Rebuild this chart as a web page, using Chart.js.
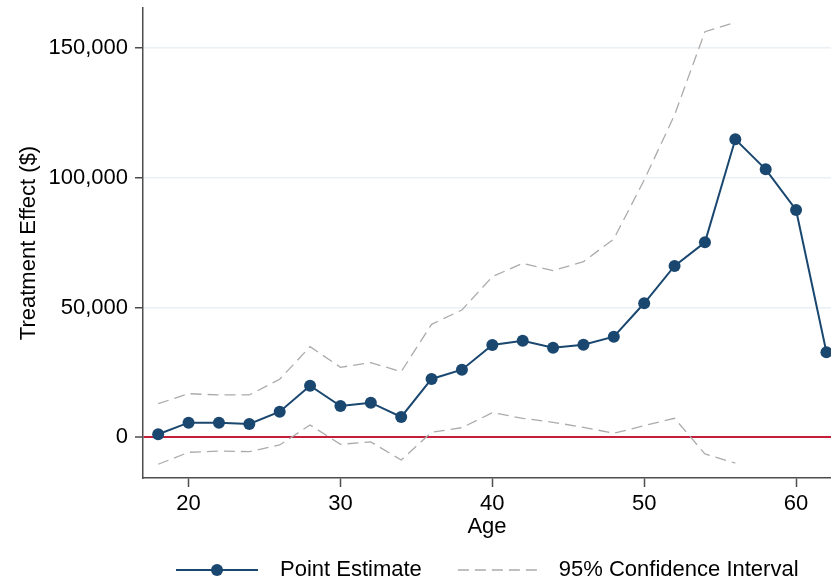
<!DOCTYPE html>
<html>
<head>
<meta charset="utf-8">
<script src="https://cdn.jsdelivr.net/npm/chart.js@4.4.0/dist/chart.umd.min.js"></script>
<style>
    html, body { margin: 0; padding: 0; background: #fff; }
    #wrap { width: 831px; height: 587px; }
</style>
</head>
<body>
<div id="wrap"><canvas id="effectChart" width="831" height="587"></canvas></div>
<script>
const ages = [18, 20, 22, 24, 26, 28, 30, 32, 34, 36, 38, 40, 42, 44, 46, 48, 50, 52, 54, 56, 58, 60, 62];
const pointEstimate = [1160, 5630, 5630, 5130, 9870, 19850, 12070, 13340, 7830, 22480, 26060, 35580,
    37240, 34540, 35700, 38780, 51660, 66040, 75170, 114880, 103300, 87620, 32770];
// confidence band stops at age 56
const ciUpper = [12950, 16810, 16310, 16310, 22360, 34930, 26990, 28760, 25290, 43560, 49070, 61910,
    67080, 64230, 67700, 76450, 99200, 124250, 156360, 159980];
const ciLower = [-10400, -5800, -5300, -5550, -2970, 4740, -2700, -1810, -8750, 1930, 3700, 9480,
    7320, 5780, 3850, 1540, 4470, 7320, -6440, -9950];
const xTicks = [20, 30, 40, 50, 60];
const yTicks = [0, 50000, 100000, 150000];

const navy = '#1a476f';
const ciGray = '#ababab';

Chart.defaults.font.family = '"Liberation Sans", Arial, sans-serif';
Chart.defaults.font.size = 22;
Chart.defaults.color = '#000';

function toPoints(values) {
    return values.map((v, i) => ({ x: ages[i], y: v }));
}

// legend symbols, drawn once on small canvases
function legendSymbol(kind) {
    const c = document.createElement('canvas');
    c.width = 110;
    c.height = 22;
    const g = c.getContext('2d');
    g.lineWidth = kind === 'point' ? 2 : 1.3;
    g.strokeStyle = kind === 'point' ? navy : ciGray;
    if (kind !== 'point') g.setLineDash([11, 6]);
    g.beginPath();
    g.moveTo(kind === 'point' ? 17 : 20, 11);
    g.lineTo(kind === 'point' ? 99 : 102, 11);
    g.stroke();
    if (kind === 'point') {
        g.fillStyle = navy;
        g.beginPath();
        g.arc(58, 11, 6, 0, Math.PI * 2);
        g.fill();
    }
    return c;
}

const ctx = document.getElementById('effectChart').getContext('2d');
const chart = new Chart(ctx, {
    type: 'line',
    data: {
        datasets: [
            {
                label: 'Point Estimate',
                data: toPoints(pointEstimate),
                borderColor: navy,
                backgroundColor: navy,
                borderWidth: 2,
                pointRadius: 6,
                pointBorderWidth: 0,
                pointHoverRadius: 6,
                tension: 0,
                order: 0
            },
            {
                label: '95% Confidence Interval',
                data: toPoints(ciUpper),
                borderColor: ciGray,
                borderWidth: 1.3,
                borderDash: [11, 6],
                pointRadius: 0,
                tension: 0,
                order: 1
            },
            {
                label: 'lower',
                data: toPoints(ciLower),
                borderColor: ciGray,
                borderWidth: 1.3,
                borderDash: [11, 6],
                pointRadius: 0,
                tension: 0,
                order: 1
            }
        ]
    },
    options: {
        responsive: false,
        animation: false,
        layout: { autoPadding: false, padding: { top: 8, left: 0, right: 0, bottom: 0 } },
        scales: {
            x: {
                type: 'linear',
                min: 17,
                max: 62.3,
                afterBuildTicks: (scale) => { scale.ticks = xTicks.map(v => ({ value: v })); },
                afterFit: (scale) => {
                    scale.height = 65;
                    scale.paddingLeft = 0;
                    scale.paddingRight = 0;
                },
                border: { display: true, color: '#4d4d4d', width: 1.5 },
                grid: {
                    display: true,
                    drawOnChartArea: false,
                    drawTicks: true,
                    tickLength: 9,
                    tickColor: '#4d4d4d',
                    tickWidth: 1.5
                },
                ticks: { padding: 4, color: '#000', font: { size: 22 } },
                title: {
                    display: true,
                    text: 'Age',
                    color: '#000',
                    font: { size: 22 },
                    padding: { top: 0, bottom: 3 }
                }
            },
            y: {
                min: -15700,
                max: 165500,
                afterBuildTicks: (scale) => { scale.ticks = yTicks.map(v => ({ value: v })); },
                afterFit: (scale) => {
                    scale.width = 143;
                    scale.paddingTop = 0;
                    scale.paddingBottom = 0;
                },
                border: { display: true, color: '#4d4d4d', width: 1.5 },
                grid: {
                    drawOnChartArea: true,
                    drawTicks: true,
                    tickLength: 8,
                    tickColor: '#4d4d4d',
                    tickWidth: 1.5,
                    color: (c) => c.tick && c.tick.value === 0 ? '#c41e3a' : '#eaf0f3',
                    lineWidth: (c) => c.tick && c.tick.value === 0 ? 2 : 1.5
                },
                ticks: {
                    padding: 7,
                    color: '#000',
                    font: { size: 22 },
                    callback: (v) => Number(v).toLocaleString('en-US')
                },
                title: {
                    display: true,
                    text: 'Treatment Effect ($)',
                    color: '#000',
                    font: { size: 22 },
                    padding: { top: 16, bottom: 0 }
                }
            }
        },
        plugins: {
            tooltip: { enabled: false },
            legend: {
                display: true,
                position: 'bottom',
                align: 'start',
                fullSize: false,
                maxHeight: 44,
                labels: {
                    usePointStyle: true,
                    pointStyleWidth: 110,
                    padding: 16,
                    color: '#000',
                    font: { size: 22 },
                    generateLabels: () => [
                        { text: 'Point Estimate', pointStyle: legendSymbol('point'), datasetIndex: 0,
                          fillStyle: navy, strokeStyle: navy, lineWidth: 0, hidden: false },
                        { text: '95% Confidence Interval', pointStyle: legendSymbol('ci'), datasetIndex: 1,
                          fillStyle: ciGray, strokeStyle: ciGray, lineWidth: 0, hidden: false }
                    ]
                }
            }
        }
    }
});
</script>
</body>
</html>
